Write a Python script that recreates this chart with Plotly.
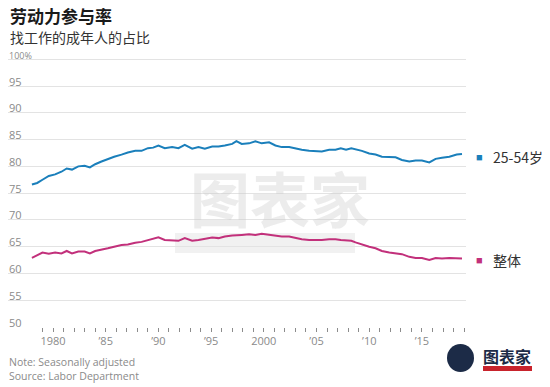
import plotly.graph_objects as go

# ---- data ----
years = [1978.0, 1978.5, 1979.0, 1979.6, 1980.2, 1980.8, 1981.3, 1981.8, 1982.4, 1983.0,
         1983.5, 1984.0, 1984.6, 1985.2, 1985.8, 1986.5, 1987.1, 1987.8, 1988.4, 1989.0,
         1989.5, 1990.0, 1990.6, 1991.3, 1991.9, 1992.5, 1993.2, 1993.8, 1994.4, 1995.1,
         1995.7, 1996.3, 1997.0, 1997.4, 1997.9, 1998.6, 1999.2, 1999.8, 2000.5, 2001.1,
         2001.7, 2002.4, 2003.0, 2003.6, 2004.3, 2004.9, 2005.5, 2006.2, 2006.8, 2007.3,
         2007.8, 2008.3, 2008.7, 2009.3, 2010.0, 2010.6, 2011.2, 2011.9, 2012.5, 2013.1,
         2013.8, 2014.4, 2015.0, 2015.7, 2016.3, 2016.9, 2017.6, 2018.3, 2018.8]

prime_age = [76.6, 76.9, 77.5, 78.2, 78.5, 79.0, 79.6, 79.4, 80.0, 80.1,
             79.8, 80.4, 80.9, 81.4, 81.8, 82.2, 82.6, 82.9, 82.9, 83.4,
             83.5, 83.9, 83.4, 83.6, 83.4, 84.0, 83.3, 83.6, 83.3, 83.7,
             83.7, 83.9, 84.2, 84.7, 84.2, 84.3, 84.7, 84.3, 84.5, 83.9,
             83.6, 83.6, 83.3, 83.1, 82.9, 82.9, 82.8, 83.1, 83.1, 83.4,
             83.1, 83.4, 83.2, 82.9, 82.4, 82.2, 81.8, 81.7, 81.7, 81.2,
             80.9, 81.1, 81.1, 80.75, 81.4, 81.6, 81.8, 82.2, 82.3]

overall = [62.9, 63.4, 63.9, 63.7, 63.9, 63.75, 64.2, 63.75, 64.1, 64.1,
           63.75, 64.2, 64.4, 64.7, 65.0, 65.3, 65.4, 65.75, 65.9, 66.25,
           66.5, 66.75, 66.25, 66.1, 66.1, 66.6, 66.1, 66.25, 66.4, 66.7,
           66.6, 66.9, 67.1, 67.2, 67.2, 67.3, 67.2, 67.4, 67.2, 67.1,
           66.9, 66.9, 66.6, 66.4, 66.25, 66.25, 66.25, 66.4, 66.4, 66.25,
           66.2, 66.1, 65.8, 65.4, 65.0, 64.7, 64.2, 63.9, 63.75, 63.6,
           63.1, 62.9, 62.9, 62.5, 62.9, 62.8, 62.9, 62.8, 62.8]

series_names = ["25-54岁", "整体"]
series_colors = ["#1a7fbb", "#c2307b"]

y_tickvals = [50, 55, 60, 65, 70, 75, 80, 85, 90, 95, 100]
y_ticktext = ["50", "55", "60", "65", "70", "75", "80", "85", "90", "95", "100%"]
x_tickvals = [1980, 1985, 1990, 1995, 2000, 2005, 2010, 2015]
x_ticktext = ["1980", "’85", "’90", "’95", "2000", "’05", "’10", "’15"]
x_minor = list(range(1979, 2020))

title = "劳动力参与率"
subtitle = "找工作的成年人的占比"
note = "Note: Seasonally adjusted"
source = "Source: Labor Department"

# ---- layout geometry (pixels) ----
W, H = 550, 387
L, R, T, B = 8, 84, 46, 60
PW, PH = W - L - R, H - T - B
Y_TOP = 100 + (59.3 - T) / 5.36


def px(x):
    return (x - L) / PW


def py(y):
    return (H - B - y) / PH


CJK = "Noto Sans CJK SC, Noto Sans, sans-serif"
LAT = "Open Sans, Noto Sans, sans-serif"

fig = go.Figure()
for vals, name, col in zip([prime_age, overall], series_names, series_colors):
    fig.add_trace(go.Scatter(x=years, y=vals, mode="lines", name=name,
                             line=dict(color=col, width=2), showlegend=False,
                             hoverinfo="skip"))

ann = []
ann.append(dict(text=f"<b>{title}</b>", x=px(8), y=py(15), xref="paper", yref="paper",
                xanchor="left", yanchor="middle", showarrow=False,
                font=dict(family=CJK, size=17, color="#1a1a1a")))
ann.append(dict(text=subtitle, x=px(8), y=py(37), xref="paper", yref="paper",
                xanchor="left", yanchor="middle", showarrow=False,
                font=dict(family=CJK, size=14, color="#333333")))
# y-axis labels sitting just above their gridlines
for v, t in zip(y_tickvals, y_ticktext):
    big = v != 100
    ann.append(dict(text=t, x=px(7), y=v, xref="paper", yref="y",
                    xanchor="left", yanchor="middle", yshift=5 if big else 4,
                    showarrow=False,
                    font=dict(family=LAT, size=11 if big else 9, color="#8a8a8a")))
ann.append(dict(text=note, x=px(7), y=py(362), xref="paper", yref="paper",
                xanchor="left", yanchor="middle", showarrow=False,
                font=dict(family=LAT, size=10.5, color="#8a8a8a")))
ann.append(dict(text=source, x=px(7), y=py(376), xref="paper", yref="paper",
                xanchor="left", yanchor="middle", showarrow=False,
                font=dict(family=LAT, size=10.5, color="#8a8a8a")))

# legend labels at the right
for vals, name, col, ly in zip([prime_age, overall], series_names, series_colors, [81.8, 62.6]):
    ann.append(dict(text="■", x=px(479), y=ly, xref="paper", yref="y",
                    xanchor="center", yanchor="middle", showarrow=False,
                    font=dict(family=LAT, size=11, color=col)))
    ann.append(dict(text=name, x=px(491), y=ly, xref="paper", yref="y",
                    xanchor="left", yanchor="middle", showarrow=False,
                    font=dict(family=CJK, size=14, color="#333333")))

# watermark
ann.append(dict(text="<b>图表家</b>", x=px(280), y=py(196), xref="paper", yref="paper",
                xanchor="center", yanchor="middle", showarrow=False,
                font=dict(family=CJK, size=60, color="rgba(200,200,200,0.35)")))
ann.append(dict(text="<b>图表家</b>", x=px(507), y=py(356), xref="paper", yref="paper",
                xanchor="center", yanchor="middle", showarrow=False,
                font=dict(family=CJK, size=16, color="#1c2b47")))

shapes = [
    dict(type="rect", xref="paper", yref="paper", x0=px(175), x1=px(355), y0=py(253), y1=py(233),
         fillcolor="rgba(225,225,225,0.45)", line=dict(width=0), layer="below"),
    dict(type="circle", xref="paper", yref="paper", x0=px(447), x1=px(474), y0=py(372), y1=py(344),
         fillcolor="#1c2b47", line=dict(width=0)),
    dict(type="rect", xref="paper", yref="paper", x0=px(483), x1=px(532), y0=py(371), y1=py(366),
         fillcolor="#c8232c", line=dict(width=0)),
]

fig.update_layout(
    width=W, height=H,
    margin=dict(l=L, r=R, t=T, b=B),
    paper_bgcolor="white", plot_bgcolor="white",
    annotations=ann, shapes=shapes,
    xaxis=dict(range=[1975.73, 2019.18], showgrid=False, zeroline=False, showline=False,
               tickmode="array", tickvals=x_tickvals, ticktext=x_ticktext,
               ticks="outside", ticklen=4, tickwidth=1, tickcolor="#8c8c8c",
               tickfont=dict(family=LAT, size=11, color="#8a8a8a"),
               minor=dict(tickvals=x_minor, ticks="outside", ticklen=4, tickwidth=1,
                          tickcolor="#8c8c8c", showgrid=False)),
    yaxis=dict(range=[50, Y_TOP], showgrid=True, gridcolor="#e3e3e3", gridwidth=1,
               zeroline=False, showline=False, ticks="", showticklabels=False,
               tickmode="array", tickvals=y_tickvals),
)

fig.write_html("out.html", config={"displayModeBar": False},
               post_script="document.body.style.margin='0';")
